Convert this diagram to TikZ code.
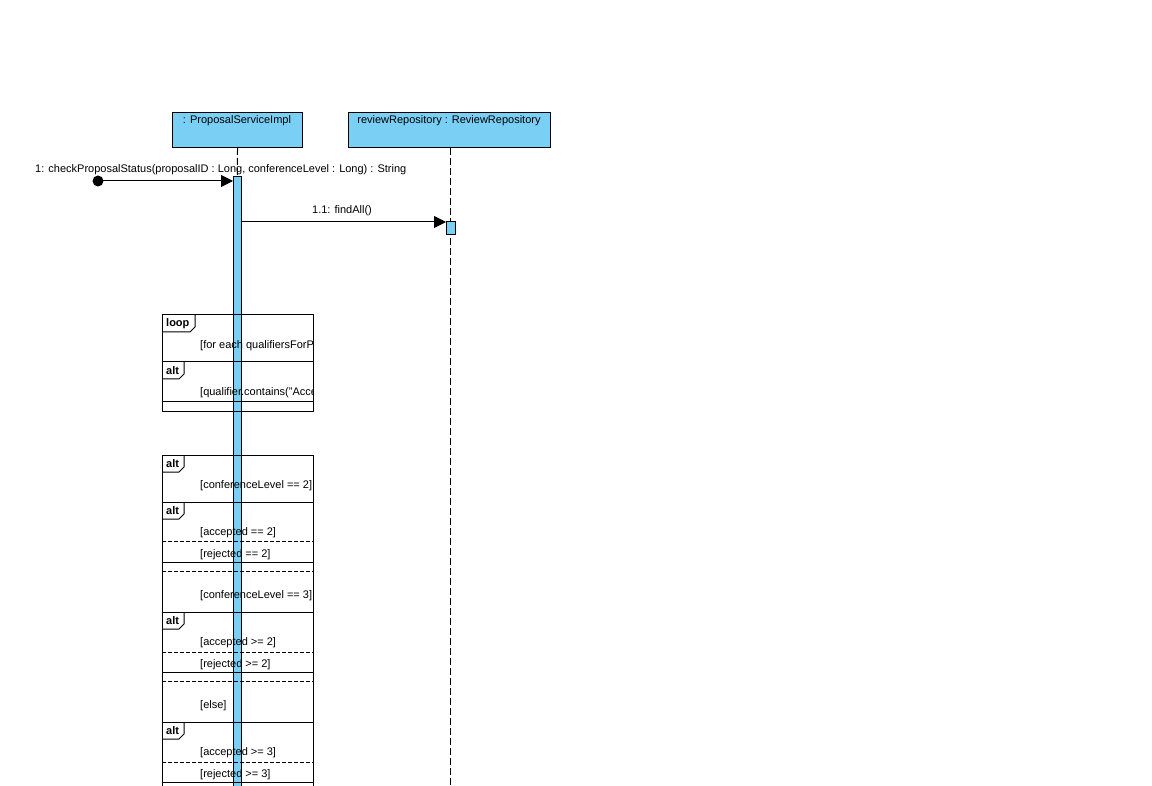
\documentclass[tikz,border=0pt]{standalone}
\usepackage{fontspec}
\setmainfont{Liberation Sans}
\usetikzlibrary{arrows.meta}
\definecolor{lifeblue}{RGB}{122,207,245}

\begin{document}
\begin{tikzpicture}[x=1pt,y=-1pt,
  txt/.style={font=\fontsize{11}{13}\selectfont, inner sep=0pt},
  guard/.style={txt, anchor=west},
  tabtxt/.style={font=\fontsize{11}{13}\selectfont\bfseries, inner sep=0pt, anchor=west},
  headbox/.style={draw=black, fill=lifeblue, line width=1pt, minimum height=35pt, inner sep=0pt, anchor=north west},
  actbar/.style={draw=black, fill=lifeblue, line width=1pt, inner sep=0pt, anchor=north west},
  lifeline/.style={line width=1pt, dash pattern=on 7pt off 3pt},
  msg/.style={line width=1pt, -{Triangle[length=12pt,width=12pt]}},
  frameline/.style={line width=1pt},
  sepline/.style={line width=1pt, dash pattern=on 4pt off 2pt},
]
\useasboundingbox (0,0) rectangle (1152,786);
\fill[white] (0,0) rectangle (1152,786);
\clip (0,0) rectangle (1152,786);

% lifeline heads
\node[headbox, minimum width=130pt] (svc) at (172,112) {};
\node[txt] (svclbl) at (237,121) {: ProposalServiceImpl};
\node[headbox, minimum width=202pt] (repo) at (348,112) {};
\node[txt] (repolbl) at (449,121) {reviewRepository : ReviewRepository};

% lifelines
\coordinate (svcend) at (237,800);
\coordinate (repoend) at (450,800);
\draw[lifeline] (svc.south) -- (svcend);
\draw[lifeline] (repo.south -| repoend) -- (repoend);

% activation bars
\node[actbar, minimum width=8pt, minimum height=624pt] (act1) at (233,176) {};
\node[actbar, minimum width=9pt, minimum height=13pt] (act2) at (446,221) {};

% found message
\node[circle, fill=black, minimum size=11pt, inner sep=0pt] (start) at (98,181) {};
\draw[msg] (start.center) -- (act1.west |- start.center);
\node[txt, anchor=west] (m1lbl) at (35,169.5) {1: checkProposalStatus(proposalID : Long, conferenceLevel : Long) : String};

% call to repository
\coordinate (m11) at (241,222);
\draw[msg] (m11) -- (act2.west |- m11);
\node[txt] (m11lbl) at (342,210.5) {1.1: findAll()};

% loop fragment with nested alt
\draw[frameline] (162,315) rectangle (313,412);
\draw[frameline] (162,332) -- (190,332) -- (195,327) -- (195,315);
\node[tabtxt] (looptab) at (166,323.5) {loop};
\draw[frameline] (162,362) -- (313,362);
\draw[frameline] (162,379) -- (179,379) -- (184,374) -- (184,362);
\node[tabtxt] (alttab0) at (166,370.5) {alt};
\draw[frameline] (162,402) -- (313,402);
\begin{scope}
  \clip (162,315) rectangle (312.5,412);
  \node[guard] (g0) at (200,345.5) {[for each qualifiersForProposal]};
  \node[guard] (g1) at (200,392.5) {[qualifier.contains("Accepted")]};
\end{scope}

% outer alt fragment
\draw[frameline] (162,800) -- (162,455) -- (313,455) -- (313,800);
\draw[frameline] (162,472) -- (179,472) -- (184,467) -- (184,455);
\node[tabtxt] (alttab1) at (166,463.5) {alt};

% nested alt for level 2
\draw[frameline] (162,502) -- (313,502);
\draw[frameline] (162,519) -- (179,519) -- (184,514) -- (184,502);
\node[tabtxt] (alttab2) at (166,510.5) {alt};
\draw[sepline] (162,541) -- (313,541);
\draw[frameline] (162,562) -- (313,562);
\draw[sepline] (162,571) -- (313,571);

% nested alt for level 3
\draw[frameline] (162,612) -- (313,612);
\draw[frameline] (162,629) -- (179,629) -- (184,624) -- (184,612);
\node[tabtxt] (alttab3) at (166,620.5) {alt};
\draw[sepline] (162,652) -- (313,652);
\draw[frameline] (162,672) -- (313,672);
\draw[sepline] (162,681) -- (313,681);

% nested alt for the else branch
\draw[frameline] (162,722) -- (313,722);
\draw[frameline] (162,739) -- (179,739) -- (184,734) -- (184,722);
\node[tabtxt] (alttab4) at (166,730.5) {alt};
\draw[sepline] (162,762) -- (313,762);
\draw[frameline] (162,782) -- (313,782);

\begin{scope}
  \clip (162,455) rectangle (312.5,800);
  \node[guard] (g2) at (200,485.5) {[conferenceLevel == 2]};
  \node[guard] (g3) at (200,532.5) {[accepted == 2]};
  \node[guard] (g4) at (200,554.5) {[rejected == 2]};
  \node[guard] (g5) at (200,595.5) {[conferenceLevel == 3]};
  \node[guard] (g6) at (200,642.5) {[accepted >= 2]};
  \node[guard] (g7) at (200,664.5) {[rejected >= 2]};
  \node[guard] (g8) at (200,705.5) {[else]};
  \node[guard] (g9) at (200,752.5) {[accepted >= 3]};
  \node[guard] (g10) at (200,774.5) {[rejected >= 3]};
\end{scope}
\end{tikzpicture}
\end{document}
